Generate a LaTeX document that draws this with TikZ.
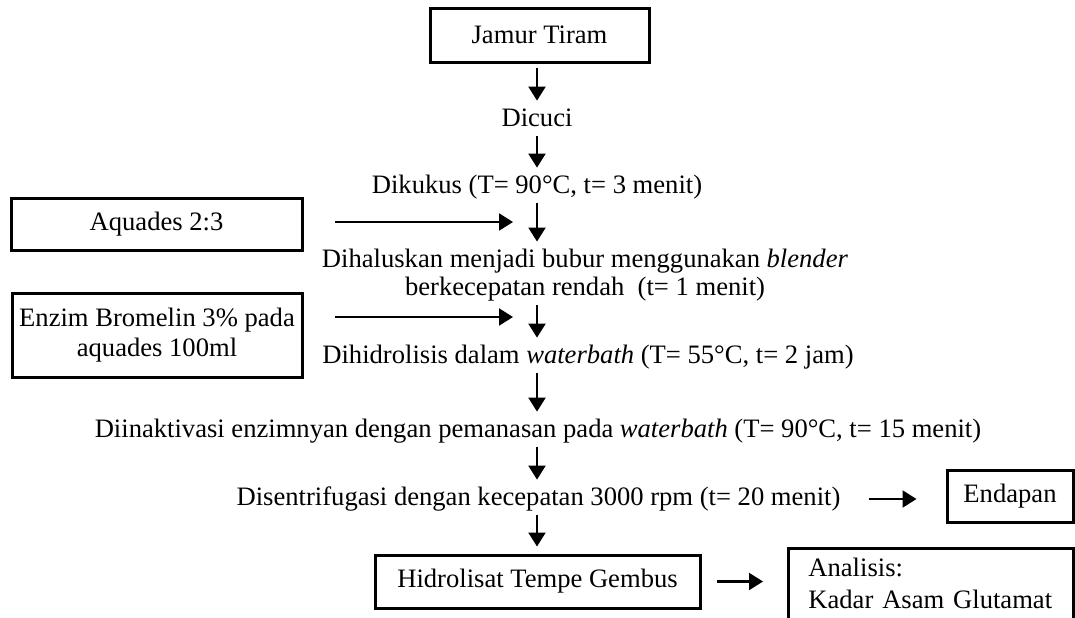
\documentclass[tikz,border=0pt]{standalone}
\usepackage{fontspec}
\setmainfont{Liberation Serif}
\usetikzlibrary{arrows.meta,calc}

\begin{document}
\begin{tikzpicture}[x=0.5pt,y=-0.5pt,
  font=\fontsize{13.3}{14}\selectfont,
  box/.style={draw,line width=1.5pt,inner sep=0pt},
  txt/.style={inner sep=0pt,text height=9pt,text depth=3pt},
  arr/.style={line width=1.1pt,-{Triangle[length=7pt,width=8.5pt]}},
  down/.style={arr,shorten <=2pt,shorten >=3.5pt}]
\useasboundingbox (0,0) rectangle (1075,617);
\coordinate (axis) at (537,0);
\coordinate (in1) at (513,222);
\coordinate (in2) at (513,317);
% main column
\node[box,minimum width=109.5pt,minimum height=27pt] (jamur) at (539.5,35) {Jamur Tiram};
\node[txt] (dicuci) at (537,120) {Dicuci};
\node[txt] (kukus) at (537,187) {Dikukus (T= 90°C, t= 3 menit)};
\node[align=center,inner sep=0pt] (halus) at (585,275) {Dihaluskan menjadi bubur menggunakan \textit{blender}\\ berkecepatan rendah~ (t= 1 menit)};
\node[txt] (hidrolisis) at (588,357) {Dihidrolisis dalam \textit{waterbath} (T= 55°C, t= 2 jam)};
\node[txt] (inaktivasi) at (538,431) {Diinaktivasi enzimnyan dengan pemanasan pada \textit{waterbath} (T= 90°C, t= 15 menit)};
\node[txt] (sentri) at (538.5,499) {Disentrifugasi dengan kecepatan 3000 rpm (t= 20 menit)};
\node[box,minimum width=162.5pt,minimum height=26.5pt] (hidrolisat) at (537.5,581.5) {Hidrolisat Tempe Gembus};
% side boxes
\node[box,minimum width=145.5pt,minimum height=26pt] (aquades) at (156.5,224) {Aquades 2:3};
\node[box,align=center,minimum width=145pt,minimum height=42pt] (enzim) at (157,335) {Enzim Bromelin 3\% pada\\[1pt] aquades 100ml};
\node[box,minimum width=63pt,minimum height=26pt] (endapan) at (1010,496) {Endapan};
\node[anchor=north west,align=left,text width=122.5pt,inner xsep=10pt,inner ysep=0pt,minimum height=34.5pt] (analisis) at (788,548) {Analisis:\\[2pt] Kadar Asam Glutamat};
\draw[line width=1.5pt] (analisis.south west) -- (analisis.north west) -- (analisis.north east) -- (analisis.south east);
% arrows
\draw[down] (jamur.south -| axis) -- (dicuci.north -| axis);
\draw[down] (dicuci.south -| axis) -- (kukus.north -| axis);
\draw[down] (kukus.south -| axis) -- (halus.north -| axis);
\draw[down] (halus.south -| axis) -- (hidrolisis.north -| axis);
\draw[down] (hidrolisis.south -| axis) -- (inaktivasi.north -| axis);
\draw[down] (inaktivasi.south -| axis) -- (sentri.north -| axis);
\draw[down] (sentri.south -| axis) -- (hidrolisat.north -| axis);
\draw[arr,shorten <=15.5pt] (aquades.east |- in1) -- (in1);
\draw[arr,shorten <=15.5pt] (enzim.east |- in2) -- (in2);
\draw[arr,shorten <=14pt,shorten >=14.5pt] (sentri.east) -- (sentri.east -| endapan.west);
\draw[arr,shorten <=7.5pt,shorten >=12.5pt] (hidrolisat.east) -- (hidrolisat.east -| analisis.west);
\end{tikzpicture}
\end{document}
